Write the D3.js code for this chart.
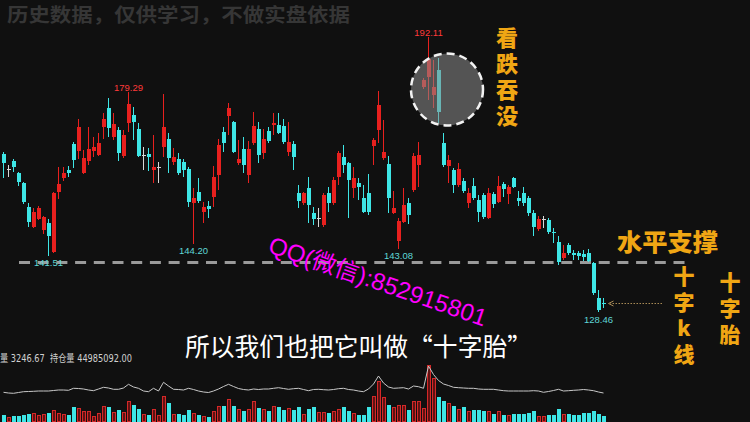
<!DOCTYPE html>
<html><head><meta charset="utf-8">
<script src="https://cdn.jsdelivr.net/npm/d3@7"></script>
<style>html,body{margin:0;padding:0;background:#101010;overflow:hidden}</style>
</head><body>
<svg id="c" width="750" height="422"></svg>
<script>
// ---- data ----
const open=[
165.03,161.56,163.41,160.64,158.32,152.76,148.13,149.98,147.44,149.06,
142.35,156.23,159.48,161.33,167.35,165.73,160.64,163.41,165.73,164.80,
171.28,175.68,168.96,170.59,164.57,172.21,174.06,170.82,164.80,165.03,
161.33,162.02,166.65,168.50,163.18,163.87,163.18,161.56,153.69,156.23,
151.60,152.99,155.08,160.17,170.12,173.83,172.44,162.95,166.19,160.17,
167.58,170.82,165.27,170.35,171.74,171.74,171.51,165.50,167.35,156.00,
153.69,157.16,151.37,150.21,148.60,156.00,153.69,159.71,164.33,162.95,
157.16,158.32,154.85,156.00,166.88,170.59,164.10,162.72,151.37,144.89,
149.29,153.69,156.70,162.49,180.54,182.85,178.69,184.48,167.58,162.25,
161.33,157.86,158.78,153.69,157.63,154.38,155.54,150.21,155.77,153.92,
158.08,155.77,159.48,154.85,156.00,154.85,151.37,147.67,149.98,149.75,
146.98,144.66,140.96,143.97,142.11,142.11,141.88,142.11,139.80,131.70,
130.54];
const close=[
162.95,161.56,162.02,158.55,153.92,149.29,151.60,152.53,150.44,146.05,
156.00,158.08,160.64,160.64,163.64,171.28,164.10,166.19,166.65,167.58,
173.13,171.05,171.97,165.27,169.43,176.61,172.44,164.57,164.80,164.33,
162.02,162.02,171.28,164.10,164.33,160.64,161.33,153.92,154.85,154.15,
152.76,152.30,159.71,167.12,167.58,175.68,165.50,163.87,162.49,166.19,
171.51,164.80,168.50,168.04,172.21,169.89,167.81,167.81,164.33,154.15,
156.00,153.22,149.98,150.21,155.54,153.69,159.01,165.27,162.49,159.01,
159.48,157.39,151.60,151.60,168.27,176.37,165.50,154.85,152.53,149.52,
153.22,150.90,164.57,164.80,182.16,187.02,180.54,174.75,162.49,163.64,
157.86,161.56,156.47,156.00,154.85,151.60,150.44,156.00,153.45,157.63,
156.93,157.39,157.39,154.15,153.69,151.37,148.13,149.98,149.98,146.98,
146.75,140.03,142.11,142.11,141.65,141.42,141.19,140.26,132.85,128.92,
130.31];
const high=[
165.50,162.49,163.87,160.87,158.55,153.69,152.53,152.99,150.67,149.98,
156.23,162.02,162.02,162.25,167.81,173.13,165.96,171.28,168.96,169.89,
174.52,178.00,174.52,171.28,170.59,179.29,175.91,172.21,166.65,166.42,
169.43,163.18,178.90,169.89,166.42,165.27,163.87,162.02,157.16,159.48,
153.92,154.15,162.25,168.50,171.28,176.84,172.70,168.27,168.96,168.04,
174.75,172.44,170.82,171.28,174.52,174.52,173.13,172.44,168.04,157.86,
156.23,159.71,152.76,152.53,156.00,157.39,159.71,165.73,167.12,163.18,
162.02,159.48,157.86,160.40,168.73,179.61,172.90,164.57,156.47,150.21,
157.16,154.85,165.27,167.81,182.62,192.11,186.79,187.25,169.89,164.80,
161.79,162.95,159.48,157.16,159.48,155.54,156.00,157.16,156.23,159.94,
158.55,157.86,159.71,156.47,157.39,155.31,152.07,150.67,150.67,150.21,
147.90,146.05,143.97,144.43,142.81,142.58,142.81,143.04,140.03,133.55,
131.70];
const low=[
159.48,159.71,160.87,157.63,153.45,148.13,147.90,149.75,146.51,141.51,
142.11,154.61,158.78,159.71,161.79,163.87,160.40,162.49,164.33,164.57,
168.50,168.96,168.27,163.41,164.10,170.12,168.27,164.33,161.33,161.10,
158.32,158.32,164.33,160.64,162.49,160.17,159.71,152.76,144.20,153.69,
149.06,150.21,152.76,156.70,165.50,169.43,165.30,162.49,160.64,158.32,
167.12,162.95,163.87,167.58,169.43,169.66,167.35,164.57,161.33,152.53,
153.22,149.06,148.60,148.13,148.13,151.60,153.22,157.86,160.64,150.21,
154.85,154.38,151.37,150.90,162.49,167.58,163.64,151.37,151.14,143.08,
149.06,148.83,156.23,157.39,180.08,177.53,175.68,172.21,162.02,158.32,
156.00,157.39,156.00,152.53,154.38,149.29,149.98,149.98,152.53,153.69,
155.08,153.45,157.16,152.99,152.99,150.67,146.05,147.21,147.90,146.51,
144.43,139.33,140.49,141.65,140.49,140.49,140.26,140.03,132.39,128.46,
129.38];
const volume=[
5.3,3.3,5,4.3,5.3,6.7,7.3,5.3,7,7.3,
11,7.7,7,6,13.3,12.7,10,9.3,5,7.7,
14.3,13.7,8.7,11,8.7,20,16,12,6.7,6,
12,6,24.3,17.7,6.7,6.7,5.3,11,7.7,5.3,
4.5,3.3,9.3,14.3,15,22,14.3,12,10,12,
20,12.7,12,9.3,14.3,13.3,11,12.7,11,13.3,
6.7,12,13.3,8.7,8.7,7.7,9.3,12,13.3,10,
7.7,6,6,13.3,24.3,40,23.3,16,13.3,16,
16,11,19.3,20,12.7,56,42.7,23.3,19.3,17.7,
15,12,13.3,9.3,11,11,10,9.3,6.7,10,
6,6,6.7,6.7,6.7,7.7,9.3,5,5,5.3,
6,11.7,6.7,6.7,6,5.3,7.7,7.7,9.3,6.7,
5];
const openInterest=[
27.7,27,26.7,27.5,28.3,28.5,28.7,29,29,29,
29.5,30,30,29.7,31.7,31.5,31,30,29.3,31,
32.7,32,30.7,30.7,32,35.7,33,31.7,29,28.3,
31.7,29,37.7,34,30.7,30.5,30,31.7,30.5,29,
28,27.5,29,31,33.5,35.7,33.5,31.5,30.5,30,
31,30.5,31,31,31.7,32.3,31.5,30.7,31.3,31.7,
30.5,29.3,30.5,30.7,30.3,30,30.5,31.3,31.7,30.5,
30,29,28.3,31,36,44,37,33,31.7,32,
32.3,31,34,33.3,31.7,54,45.5,39.5,36,34.5,
32.7,32.3,32,31.7,31.7,31,30.7,30.7,30.7,30,
29.3,29,29,29,29,29,29.3,29,27.7,28.5,
29.5,30.7,29,29.3,29.7,30,30.5,30,29.3,28,
27];
// extreme-price labels: candle index and which side
const highLabels=[25,85];
const lowLabels=[9,38,79,119];
const supportLevel=139.9;
const volumeInfo="量 3246.67  持仓量 44985092.00";
const watermark="历史数据，仅供学习，不做实盘依据";
const note1="看跌吞没";
const note2="水平支撑";
const note3="十字k线";
const note4="十字胎";
const contact="QQ(微信):852915801";
const subtitle="所以我们也把它叫做“十字胎”";

// ---- drawing ----
const RED="#e8201e", CYAN="#3ee6e6", DOJI="#d8d8d8";
const n=open.length;
const svg=d3.select("#c");
svg.append("rect").attr("width",750).attr("height",422).attr("fill","#101010");

const x=d3.scaleLinear().domain([0,n-1]).range([3.5,603.5]);
const y=d3.scaleLinear().domain([128.46,192.11]).range([312,37]);
const yv=d3.scaleLinear().domain([0,60]).range([421,361]);
const yoi=d3.scaleLinear().domain([0,60]).range([420,360]);
const idx=d3.range(n);
const col=i=>close[i]>open[i]?RED:(close[i]<open[i]?CYAN:DOJI);

// watermark
svg.append("text").attr("x",7).attr("y",22).text(watermark)
  .attr("font-family","Noto Sans CJK SC").attr("font-weight",700).attr("font-size",19)
  .attr("fill","#363636").attr("textLength",343).attr("lengthAdjust","spacingAndGlyphs");

// support dashed line
svg.append("line").attr("x1",19).attr("x2",686).attr("y1",y(supportLevel)).attr("y2",y(supportLevel))
  .attr("stroke","#9a9a9a").attr("stroke-width",3).attr("stroke-dasharray","11,7.7");

// candles
const g=svg.append("g").attr("shape-rendering","crispEdges");
g.selectAll("line.w").data(idx).join("line").attr("class","w")
  .attr("x1",i=>x(i)).attr("x2",i=>x(i)).attr("y1",i=>y(high[i])).attr("y2",i=>y(low[i]))
  .attr("stroke",col).attr("stroke-width",1);
g.selectAll("rect.b").data(idx).join("rect").attr("class","b")
  .attr("x",i=>x(i)-2).attr("width",4)
  .attr("y",i=>y(Math.max(open[i],close[i])))
  .attr("height",i=>Math.max(1,Math.abs(y(open[i])-y(close[i]))))
  .attr("fill",col);

// price labels
const lf="Liberation Sans, Arial, sans-serif";
svg.selectAll("text.hl").data(highLabels).join("text").attr("class","hl")
  .attr("x",i=>x(i)).attr("y",i=>y(high[i])-1.5).attr("text-anchor","middle")
  .attr("font-family",lf).attr("font-size",9.5).attr("fill","#ff3a3a")
  .text(i=>high[i].toFixed(2));
svg.selectAll("text.ll").data(lowLabels).join("text").attr("class","ll")
  .attr("x",i=>x(i)).attr("y",i=>y(low[i])+10.5).attr("text-anchor","middle")
  .attr("font-family",lf).attr("font-size",9.5).attr("fill","#5fd6d6")
  .text(i=>low[i].toFixed(2));

// engulfing highlight circle
svg.append("circle").attr("cx",447).attr("cy",89.5).attr("r",36)
  .attr("fill","rgba(140,140,140,0.55)").attr("stroke","#f2f2f2")
  .attr("stroke-width",2.5).attr("stroke-dasharray","8,5");

// volume bars
const vg=svg.append("g").attr("shape-rendering","crispEdges");
vg.selectAll("rect").data(idx).join("rect")
  .attr("x",i=>x(i)-1.5).attr("width",3)
  .attr("y",i=>yv(volume[i])).attr("height",i=>yv(0)-yv(volume[i]))
  .attr("fill",i=>close[i]>=open[i]?"#5e1212":CYAN)
  .attr("stroke",i=>close[i]>=open[i]?"#d42828":CYAN).attr("stroke-width",1);
// open interest line
svg.append("path").datum(idx)
  .attr("d",d3.line().x(i=>x(i)).y(i=>yoi(openInterest[i])))
  .attr("fill","none").attr("stroke","#c8c8c8").attr("stroke-width",1);
svg.append("text").attr("x",0).attr("y",362).text(volumeInfo).attr("xml:space","preserve")
  .attr("font-family","DejaVu Sans, Noto Sans CJK SC").attr("font-size",10.5).attr("fill","#d0d0d0")
  .attr("textLength",132).attr("lengthAdjust","spacingAndGlyphs");

// annotations (vertical columns as single texts)
const gold="#f0a614";
const cjkB="Noto Sans CJK SC";
function vtext(str,cx,top,fs,pitch){
  svg.append("text").attr("x",cx).attr("y",top).text(str)
    .style("writing-mode","vertical-rl").style("text-orientation","upright")
    .style("letter-spacing",(pitch-fs)+"px")
    .attr("font-family",cjkB).attr("font-weight",900).attr("font-size",fs).attr("fill",gold);
}
vtext(note1,507,27,22,26);
vtext(note3,684,266,21,26);
vtext(note4,730,272,21,26);
svg.append("text").attr("x",617).attr("y",251).text(note2)
  .attr("font-family",cjkB).attr("font-weight",900).attr("font-size",24).attr("fill",gold)
  .attr("textLength",101).attr("lengthAdjust","spacingAndGlyphs");

// dotted arrow to the cross candle
const ay=y((open[n-1]+close[n-1])/2), ax=x(n-1)+5;
svg.append("line").attr("x1",662).attr("x2",ax+2).attr("y1",ay).attr("y2",ay)
  .attr("stroke","#a88a55").attr("stroke-width",1).attr("stroke-dasharray","1.5,1.5");
svg.append("path").attr("d",`M${ax+5},${ay-2.5}L${ax},${ay}L${ax+5},${ay+2.5}`)
  .attr("fill","none").attr("stroke","#a88a55").attr("stroke-width",1);

// contact watermark (rotated)
svg.append("text").attr("transform","translate(267,252) rotate(19)").text(contact)
  .attr("font-family","Liberation Sans, Arial, Noto Sans CJK SC").attr("font-size",24).attr("fill","#ff00ff")
  .attr("textLength",229).attr("lengthAdjust","spacingAndGlyphs");

// subtitle
svg.append("text").attr("x",185).attr("y",356).text(subtitle)
  .attr("font-family","Noto Sans CJK SC").attr("font-size",25).attr("fill","#ffffff")
  .attr("textLength",347).attr("lengthAdjust","spacingAndGlyphs");
</script>
</body></html>
